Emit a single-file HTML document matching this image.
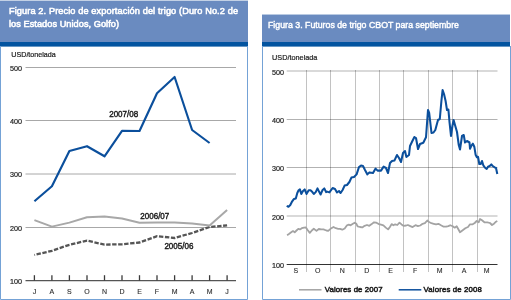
<!DOCTYPE html>
<html><head><meta charset="utf-8"><title>Figuras trigo</title>
<style>html,body{margin:0;padding:0;background:#fff;width:511px;height:300px;overflow:hidden}svg{display:block;will-change:transform}</style>
</head><body>
<svg width="511" height="300" viewBox="0 0 511 300">
<rect x="0" y="0" width="511" height="300" fill="#fff"/>
<rect x="0" y="0" width="248" height="1" fill="#c3d1e5"/>
<rect x="0" y="1" width="248" height="41" fill="#6a8bc0"/>
<rect x="0" y="42" width="248" height="4.6" fill="#0354a0"/>
<path d="M0.5 46 V299.5 H247.5 V46" fill="none" stroke="#74a2d6" stroke-width="1"/>
<rect x="262" y="14" width="248" height="1" fill="#b9cae2"/>
<rect x="262" y="15" width="248" height="27" fill="#6a8bc0"/>
<rect x="262" y="42" width="248" height="4.6" fill="#0354a0"/>
<path d="M262.5 46 V299.5 H510.5 V46" fill="none" stroke="#74a2d6" stroke-width="1"/>
<text x="9" y="14" font-family='"Liberation Sans", sans-serif' font-size="9.2" fill="#fff" stroke="#fff" stroke-width="0.55" textLength="229" lengthAdjust="spacing">Figura 2. Precio de exportación del trigo (Duro No.2 de</text>
<text x="9" y="26.7" font-family='"Liberation Sans", sans-serif' font-size="9.2" fill="#fff" stroke="#fff" stroke-width="0.55" textLength="110" lengthAdjust="spacing">los Estados Unidos, Golfo)</text>
<text x="268" y="28.3" font-family='"Liberation Sans", sans-serif' font-size="9.6" fill="#fff" stroke="#fff" stroke-width="0.45" textLength="191" lengthAdjust="spacingAndGlyphs">Figura 3. Futuros de trigo CBOT para septiembre</text>
<text x="11.3" y="57" font-family='"Liberation Sans", sans-serif' font-size="7.5" fill="#1a1a1a" stroke="#1a1a1a" stroke-width="0.2" textLength="44.5" lengthAdjust="spacingAndGlyphs">USD/tonelada</text>
<line x1="25.5" x2="236" y1="67.5" y2="67.5" stroke="#a8a8a8" stroke-width="1"/>
<text x="22" y="70.8" text-anchor="end" font-family='"Liberation Sans", sans-serif' font-size="7.2" fill="#1a1a1a" stroke="#1a1a1a" stroke-width="0.18">500</text>
<line x1="25.5" x2="236" y1="120.5" y2="120.5" stroke="#a8a8a8" stroke-width="1"/>
<text x="22" y="123.8" text-anchor="end" font-family='"Liberation Sans", sans-serif' font-size="7.2" fill="#1a1a1a" stroke="#1a1a1a" stroke-width="0.18">400</text>
<line x1="25.5" x2="236" y1="174.0" y2="174.0" stroke="#a8a8a8" stroke-width="1"/>
<text x="22" y="177.3" text-anchor="end" font-family='"Liberation Sans", sans-serif' font-size="7.2" fill="#1a1a1a" stroke="#1a1a1a" stroke-width="0.18">300</text>
<line x1="25.5" x2="236" y1="227.5" y2="227.5" stroke="#a8a8a8" stroke-width="1"/>
<text x="22" y="230.8" text-anchor="end" font-family='"Liberation Sans", sans-serif' font-size="7.2" fill="#1a1a1a" stroke="#1a1a1a" stroke-width="0.18">200</text>
<text x="22" y="284.2" text-anchor="end" font-family='"Liberation Sans", sans-serif' font-size="7.2" fill="#1a1a1a" stroke="#1a1a1a" stroke-width="0.18">100</text>
<line x1="25.5" x2="236" y1="280.6" y2="280.6" stroke="#555" stroke-width="1.2"/>
<line x1="34.4" x2="34.4" y1="275.2" y2="280.6" stroke="#3a3a3a" stroke-width="1.3"/>
<text x="34.4" y="294.3" text-anchor="middle" font-family='"Liberation Sans", sans-serif' font-size="7" fill="#2a2a2a" stroke="#2a2a2a" stroke-width="0.1">J</text>
<line x1="51.9" x2="51.9" y1="275.2" y2="280.6" stroke="#3a3a3a" stroke-width="1.3"/>
<text x="51.9" y="294.3" text-anchor="middle" font-family='"Liberation Sans", sans-serif' font-size="7" fill="#2a2a2a" stroke="#2a2a2a" stroke-width="0.1">A</text>
<line x1="69.4" x2="69.4" y1="275.2" y2="280.6" stroke="#3a3a3a" stroke-width="1.3"/>
<text x="69.4" y="294.3" text-anchor="middle" font-family='"Liberation Sans", sans-serif' font-size="7" fill="#2a2a2a" stroke="#2a2a2a" stroke-width="0.1">S</text>
<line x1="87.0" x2="87.0" y1="275.2" y2="280.6" stroke="#3a3a3a" stroke-width="1.3"/>
<text x="87.0" y="294.3" text-anchor="middle" font-family='"Liberation Sans", sans-serif' font-size="7" fill="#2a2a2a" stroke="#2a2a2a" stroke-width="0.1">O</text>
<line x1="104.5" x2="104.5" y1="275.2" y2="280.6" stroke="#3a3a3a" stroke-width="1.3"/>
<text x="104.5" y="294.3" text-anchor="middle" font-family='"Liberation Sans", sans-serif' font-size="7" fill="#2a2a2a" stroke="#2a2a2a" stroke-width="0.1">N</text>
<line x1="122.0" x2="122.0" y1="275.2" y2="280.6" stroke="#3a3a3a" stroke-width="1.3"/>
<text x="122.0" y="294.3" text-anchor="middle" font-family='"Liberation Sans", sans-serif' font-size="7" fill="#2a2a2a" stroke="#2a2a2a" stroke-width="0.1">D</text>
<line x1="139.5" x2="139.5" y1="275.2" y2="280.6" stroke="#3a3a3a" stroke-width="1.3"/>
<text x="139.5" y="294.3" text-anchor="middle" font-family='"Liberation Sans", sans-serif' font-size="7" fill="#2a2a2a" stroke="#2a2a2a" stroke-width="0.1">E</text>
<line x1="157.0" x2="157.0" y1="275.2" y2="280.6" stroke="#3a3a3a" stroke-width="1.3"/>
<text x="157.0" y="294.3" text-anchor="middle" font-family='"Liberation Sans", sans-serif' font-size="7" fill="#2a2a2a" stroke="#2a2a2a" stroke-width="0.1">F</text>
<line x1="174.6" x2="174.6" y1="275.2" y2="280.6" stroke="#3a3a3a" stroke-width="1.3"/>
<text x="174.6" y="294.3" text-anchor="middle" font-family='"Liberation Sans", sans-serif' font-size="7" fill="#2a2a2a" stroke="#2a2a2a" stroke-width="0.1">M</text>
<line x1="192.1" x2="192.1" y1="275.2" y2="280.6" stroke="#3a3a3a" stroke-width="1.3"/>
<text x="192.1" y="294.3" text-anchor="middle" font-family='"Liberation Sans", sans-serif' font-size="7" fill="#2a2a2a" stroke="#2a2a2a" stroke-width="0.1">A</text>
<line x1="209.6" x2="209.6" y1="275.2" y2="280.6" stroke="#3a3a3a" stroke-width="1.3"/>
<text x="209.6" y="294.3" text-anchor="middle" font-family='"Liberation Sans", sans-serif' font-size="7" fill="#2a2a2a" stroke="#2a2a2a" stroke-width="0.1">M</text>
<line x1="227.1" x2="227.1" y1="275.2" y2="280.6" stroke="#3a3a3a" stroke-width="1.3"/>
<text x="227.1" y="294.3" text-anchor="middle" font-family='"Liberation Sans", sans-serif' font-size="7" fill="#2a2a2a" stroke="#2a2a2a" stroke-width="0.1">J</text>
<polyline points="34.4,255.0 51.9,250.8 69.4,244.8 87.0,240.6 104.5,244.6 122.0,244.3 139.5,242.5 157.0,236.2 174.6,238.0 192.1,233.0 209.6,227.0 227.1,225.4" fill="none" stroke="#555" stroke-width="2.3" stroke-dasharray="4.4 1.6" stroke-dashoffset="3.8"/>
<polyline points="34.4,220.1 51.9,226.6 69.4,222.6 87.0,217.2 104.5,216.4 122.0,218.5 139.5,222.7 157.0,222.5 174.6,222.6 192.1,223.6 209.6,225.4 227.1,210.0" fill="none" stroke="#a8a8a8" stroke-width="2" stroke-linejoin="round"/>
<polyline points="34.4,201.2 51.9,186.3 69.4,151.0 87.0,146.2 104.5,156.3 122.0,130.8 139.5,131.0 157.0,93.3 174.6,77.0 192.1,130.0 209.6,143.0" fill="none" stroke="#0b4f9c" stroke-width="2.15" stroke-linejoin="round"/>
<text x="109.2" y="116.8" font-family='"Liberation Sans", sans-serif' font-size="8.2" fill="#1a1a1a" stroke="#1a1a1a" stroke-width="0.4" textLength="29" lengthAdjust="spacingAndGlyphs">2007/08</text>
<text x="140.3" y="219.2" font-family='"Liberation Sans", sans-serif' font-size="8.2" fill="#1a1a1a" stroke="#1a1a1a" stroke-width="0.4" textLength="29" lengthAdjust="spacingAndGlyphs">2006/07</text>
<text x="164.4" y="248.5" font-family='"Liberation Sans", sans-serif' font-size="8.2" fill="#1a1a1a" stroke="#1a1a1a" stroke-width="0.4" textLength="29" lengthAdjust="spacingAndGlyphs">2005/06</text>
<text x="272.1" y="59.9" font-family='"Liberation Sans", sans-serif' font-size="7.5" fill="#1a1a1a" stroke="#1a1a1a" stroke-width="0.2" textLength="45.3" lengthAdjust="spacingAndGlyphs">USD/tonelada</text>
<line x1="286.7" x2="497.5" y1="71.0" y2="71.0" stroke="#000" stroke-opacity="0.3" stroke-width="1"/>
<text x="284" y="74.5" text-anchor="end" font-family='"Liberation Sans", sans-serif' font-size="7.2" fill="#1a1a1a" stroke="#1a1a1a" stroke-width="0.18">500</text>
<line x1="286.7" x2="497.5" y1="119.5" y2="119.5" stroke="#000" stroke-opacity="0.3" stroke-width="1"/>
<text x="284" y="123.0" text-anchor="end" font-family='"Liberation Sans", sans-serif' font-size="7.2" fill="#1a1a1a" stroke="#1a1a1a" stroke-width="0.18">400</text>
<line x1="286.7" x2="497.5" y1="167.5" y2="167.5" stroke="#000" stroke-opacity="0.3" stroke-width="1"/>
<text x="284" y="171.0" text-anchor="end" font-family='"Liberation Sans", sans-serif' font-size="7.2" fill="#1a1a1a" stroke="#1a1a1a" stroke-width="0.18">300</text>
<line x1="286.7" x2="497.5" y1="216.0" y2="216.0" stroke="#000" stroke-opacity="0.3" stroke-width="1"/>
<text x="284" y="219.5" text-anchor="end" font-family='"Liberation Sans", sans-serif' font-size="7.2" fill="#1a1a1a" stroke="#1a1a1a" stroke-width="0.18">200</text>
<text x="284" y="268.0" text-anchor="end" font-family='"Liberation Sans", sans-serif' font-size="7.2" fill="#1a1a1a" stroke="#1a1a1a" stroke-width="0.18">100</text>
<line x1="286.7" x2="497.5" y1="264.5" y2="264.5" stroke="#333" stroke-width="1"/>
<line x1="306.5" x2="306.5" y1="70" y2="272" stroke="#000" stroke-opacity="0.24" stroke-width="1"/>
<line x1="330.5" x2="330.5" y1="70" y2="272" stroke="#000" stroke-opacity="0.24" stroke-width="1"/>
<line x1="355.5" x2="355.5" y1="70" y2="272" stroke="#000" stroke-opacity="0.24" stroke-width="1"/>
<line x1="379.5" x2="379.5" y1="70" y2="272" stroke="#000" stroke-opacity="0.24" stroke-width="1"/>
<line x1="403.5" x2="403.5" y1="70" y2="272" stroke="#000" stroke-opacity="0.24" stroke-width="1"/>
<line x1="428.5" x2="428.5" y1="70" y2="272" stroke="#000" stroke-opacity="0.24" stroke-width="1"/>
<line x1="452.5" x2="452.5" y1="70" y2="272" stroke="#000" stroke-opacity="0.24" stroke-width="1"/>
<line x1="477.5" x2="477.5" y1="70" y2="272" stroke="#000" stroke-opacity="0.24" stroke-width="1"/>
<text x="295.8" y="273.2" text-anchor="middle" font-family='"Liberation Sans", sans-serif' font-size="7" fill="#2a2a2a" stroke="#2a2a2a" stroke-width="0.1">S</text>
<text x="317.7" y="273.2" text-anchor="middle" font-family='"Liberation Sans", sans-serif' font-size="7" fill="#2a2a2a" stroke="#2a2a2a" stroke-width="0.1">O</text>
<text x="342.2" y="273.2" text-anchor="middle" font-family='"Liberation Sans", sans-serif' font-size="7" fill="#2a2a2a" stroke="#2a2a2a" stroke-width="0.1">N</text>
<text x="366.7" y="273.2" text-anchor="middle" font-family='"Liberation Sans", sans-serif' font-size="7" fill="#2a2a2a" stroke="#2a2a2a" stroke-width="0.1">D</text>
<text x="390.7" y="273.2" text-anchor="middle" font-family='"Liberation Sans", sans-serif' font-size="7" fill="#2a2a2a" stroke="#2a2a2a" stroke-width="0.1">E</text>
<text x="415.2" y="273.2" text-anchor="middle" font-family='"Liberation Sans", sans-serif' font-size="7" fill="#2a2a2a" stroke="#2a2a2a" stroke-width="0.1">F</text>
<text x="439.7" y="273.2" text-anchor="middle" font-family='"Liberation Sans", sans-serif' font-size="7" fill="#2a2a2a" stroke="#2a2a2a" stroke-width="0.1">M</text>
<text x="464.2" y="273.2" text-anchor="middle" font-family='"Liberation Sans", sans-serif' font-size="7" fill="#2a2a2a" stroke="#2a2a2a" stroke-width="0.1">A</text>
<text x="486.7" y="273.2" text-anchor="middle" font-family='"Liberation Sans", sans-serif' font-size="7" fill="#2a2a2a" stroke="#2a2a2a" stroke-width="0.1">M</text>
<polyline points="287.1,235.2 288.9,234 291.2,232.3 293,231.1 294.7,232.3 296.5,230.5 298.3,228.8 300,229.4 301.8,228.2 304.1,227.6 305.9,227.4 307.6,230 309.8,232.9 311.8,230.5 313.8,228.8 316.5,230.9 318.8,229 321.1,229.4 323.5,229.4 326.4,230.5 328.2,230.9 330.5,228.8 333.5,227 335.8,228.2 338.2,228.8 340,228.8 342.3,229.7 344.7,228.5 347,225.3 348.8,224.7 350.6,225.3 352.9,223.8 354.7,222.7 356.4,223.8 357.6,226.4 360,227 362.3,227.4 364.6,225.8 367,225 369.3,225.8 371.7,224.1 374,222.3 376.4,222.7 378.7,224.1 381,224.7 383.4,225.4 385.8,227.6 388.1,229.4 389.9,227 391.6,224.1 393.4,225.3 395.2,224.3 397.3,225 399.5,222.6 401.5,224.4 403.8,225.9 406.2,225.5 407.9,225 410.3,226.1 412.6,227.1 415.5,225.2 417.9,226.1 420.2,225.5 422.6,223.8 424.9,223.2 427.3,220.5 429,222 431.4,223.2 433.7,223.8 436.1,224.4 438.4,223.8 441.4,225.5 443.7,226.7 446.1,226.7 448.4,226.1 450.2,225.2 452.7,226.3 454.7,227.7 456.7,226.3 460,232.3 462.7,230.3 465.3,228.3 468,227 470,224.3 472.7,224.3 474.7,223 476.7,221 478.7,222.3 480,219 482,220.3 484.4,222.3 487.3,222.3 490,223 492,225 494,223.7 496,221.7 497.3,221" fill="none" stroke="#a3a3a3" stroke-width="1.8" stroke-linejoin="round"/>
<polyline points="286.7,205.9 288.5,206.8 290.3,205 292.2,201.3 294,198.9 295.8,198.5 297.3,193 298.6,190.3 299.9,189.4 301.3,194 302.8,191.2 304.7,189.4 306.5,194 308.7,190.3 310.5,190.3 312.4,192.1 313.8,194 315.7,192.1 317.5,188.4 319.3,192.1 320.6,194.5 322.4,190.3 324.3,188.4 326.1,192.1 327,191.6 329.4,192.4 332.6,188 335,189 337,192.4 339,191 340.6,193 342.6,190 344.6,185.6 347,185 349.4,182 351.4,177.6 354,177 356.6,174.4 359,167 361,165.6 363,166 365,170 367.4,174.4 369.4,172.4 373,173 375.6,168.6 377.6,170.6 381,170.6 383.6,166.6 386,168 388,173 390,163 392,161 394.4,160.6 397,155 399,158 401,162 403,153 405,151 406.4,157 409,155 410,146 412.4,141 414.4,137 416,138 418,149 420,144 423.3,142.7 426,137.3 428,110 429.2,113 431.5,133 433.5,132.5 435.3,130 438,120 439.8,119 441.4,101 442.6,90 444,94 445.6,101 447,110 448.4,109.6 449.6,123 451,136 452.4,126 453.6,120 455,125 457,132 458.75,145 460,149.5 462,136 463.75,135 465,142.5 467,141 469.5,142.5 470,148.7 471.6,145.3 472.9,143.7 474.3,146.7 475.6,154.7 476.9,157.3 478,156.7 479.3,164 480.7,164 482,161 483.3,165.3 485.3,168 486.7,169 488,166.7 489.7,166 491.3,164.4 492.7,166 494.7,167.3 496,168 497.3,174" fill="none" stroke="#0b4f9c" stroke-width="2.05" stroke-linejoin="round"/>
<line x1="299" x2="321.5" y1="289.8" y2="289.8" stroke="#a3a3a3" stroke-width="1.5"/>
<text x="324.7" y="292.3" font-family='"Liberation Sans", sans-serif' font-size="7.8" fill="#1a1a1a" stroke="#1a1a1a" stroke-width="0.5" textLength="57.8" lengthAdjust="spacing">Valores de 2007</text>
<line x1="398.7" x2="421.3" y1="289.8" y2="289.8" stroke="#0b4f9c" stroke-width="1.5"/>
<text x="423.5" y="292.3" font-family='"Liberation Sans", sans-serif' font-size="7.8" fill="#1a1a1a" stroke="#1a1a1a" stroke-width="0.5" textLength="58.4" lengthAdjust="spacing">Valores de 2008</text>
</svg>
</body></html>
